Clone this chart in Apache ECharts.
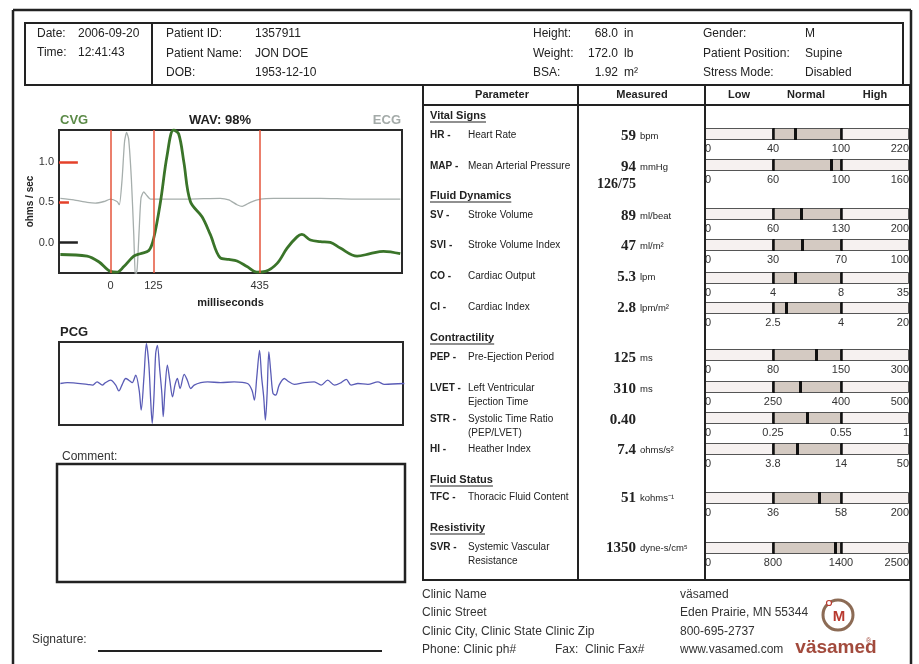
<!DOCTYPE html>
<html><head><meta charset="utf-8">
<script src="https://cdn.jsdelivr.net/npm/echarts@6/dist/echarts.min.js"></script>
<style>html,body{margin:0;padding:0;background:#fff}#c{width:919px;height:664px}</style>
</head><body><div id="c"></div>
<script>
// ---------- DATA ----------
const cvgMs  = [-146,-68,-34,0,19,39,68,87,112,126,146,165,184,199,214,233,267,291,320,345,369,398,427,452,486,515,544,558,583,612,641,670,719,757,796,845];
const cvgVal = [-0.15,-0.17,-0.24,-0.36,-0.37,-0.30,-0.17,-0.14,-0.10,0.05,0.51,1.08,1.40,1.35,1.00,0.51,0.32,0.10,-0.19,-0.21,-0.23,-0.30,-0.37,-0.36,-0.26,-0.07,0.07,0.10,0.03,0.01,0.00,-0.07,-0.17,-0.14,-0.11,-0.14];
const ecgMs  = [-146,-107,-68,-44,-19,0,19,26,34,41,47,53,61,68,73,78,84,89,97,105,117,146,223,320,345,369,384,408,437,476,612,709,845];
const ecgVal = [0.55,0.53,0.50,0.49,0.51,0.54,0.51,0.47,0.79,1.25,1.37,1.29,0.79,0.10,-0.45,-0.32,0.18,0.55,0.63,0.59,0.54,0.54,0.54,0.55,0.53,0.47,0.45,0.50,0.54,0.55,0.55,0.54,0.54];
const pcgMs  = [-146,-126,-68,-53,-39,-24,-15,0,15,24,34,44,53,63,73,83,89,97,104,111,117,121,126,131,136,143,149,153,158,165,172,180,187,194,202,214,223,233,243,262,282,320,359,398,411,418,425,433,439,445,450,455,460,466,472,480,490,505,515,534,563,592,612,631,651,670,685,699,719,748,777,796,854];
const pcgVal = [0,0.02,-0.02,-0.04,0.04,-0.04,0.02,0.08,-0.04,-0.18,-0.02,0.12,0.08,0.02,0.2,-0.16,-0.64,0.16,0.96,0.48,-0.48,-0.96,-0.32,0.72,0.92,0.32,-0.24,-0.8,-0.16,0.44,0.08,-0.32,-0.04,0.12,-0.12,0.22,0.08,-0.12,-0.04,0.02,0.04,0.02,0.04,0,-0.16,-0.4,0.16,0.8,0.16,-0.32,-0.88,-0.24,0.76,0.24,-0.24,-0.28,-0.04,0.12,0.06,-0.02,0.02,0.04,-0.04,0.08,-0.04,0.02,0.1,-0.04,0,-0.02,0.04,-0.02,0];
const markerMs = [0,125,435];
const cvgTickVals = [0,0.5,1.0];

const paramCodes = ['HR -','MAP -','SV -','SVI -','CO -','CI -','PEP -','LVET -','STR -','HI -','TFC -','SVR -'];
const paramNames = [['Heart Rate'],['Mean Arterial Pressure'],['Stroke Volume'],['Stroke Volume Index'],['Cardiac Output'],['Cardiac Index'],['Pre-Ejection Period'],['Left Ventricular','Ejection Time'],['Systolic Time Ratio','(PEP/LVET)'],['Heather Index'],['Thoracic Fluid Content'],['Systemic Vascular','Resistance']];
const measured   = [59,94,89,47,5.3,2.8,125,310,0.40,7.4,51,1350];
const measuredTx = ['59','94','89','47','5.3','2.8','125','310','0.40','7.4','51','1350'];
const units      = ['bpm','mmHg','ml/beat','ml/m²','lpm','lpm/m²','ms','ms','','ohms/s²','kohms⁻¹','dyne-s/cm⁵'];
const lowLimits  = [40,60,60,30,4,2.5,80,250,0.25,3.8,36,800];
const highLimits = [100,100,130,70,8,4,150,400,0.55,14,58,1400];
const maxLimits  = [220,160,200,100,35,20,300,500,1,50,200,2500];
const sections   = ['Vital Signs','Fluid Dynamics','Contractility','Fluid Status','Resistivity'];
const bloodPressure = '126/75';

// ---------- LAYOUT ----------
const FONT = '"Liberation Sans", Arial, sans-serif';
const SERIF = '"Liberation Serif", "Times New Roman", serif';
const rowY   = [135,166,215,245,276,307,357,388,419,449,497,547];
const barTop = [128,159,208,239,272,302,349,381,412,443,492,542];
const sectionY = [116,196,338,480,528];

const g = [];
function T(x,y,text,o){o=o||{};g.push({type:'text',x:x,y:y,silent:true,z:o.z||10,style:{text:text,fill:o.color||'#222',
  font:(o.bold?'bold ':'')+(o.size||12)+'px '+(o.family||FONT),textAlign:o.align||'left',textVerticalAlign:'middle',align:o.align||'left',verticalAlign:'middle'}});}
function L(x1,y1,x2,y2,w,c){g.push({type:'line',silent:true,z:5,shape:{x1:x1,y1:y1,x2:x2,y2:y2},style:{stroke:c||'#222',lineWidth:w||2}});}
function R(x,y,w,h,lw,c){g.push({type:'rect',silent:true,z:5,shape:{x:x,y:y,width:w,height:h},style:{fill:'none',stroke:c||'#222',lineWidth:lw||2}});}
const mctx = document.createElement('canvas').getContext('2d');
function tw(text,font){mctx.font=font;return mctx.measureText(text).width;}

// outer frame
L(13,10,911,10,2.5); L(13,10,13,664,2.5); L(911,10,911,664,2.5);
// header box
R(25,23,878,62,2); L(152,23,152,85,2);
T(37,34,'Date:'); T(78,34,'2006-09-20');
T(37,53,'Time:'); T(78,53,'12:41:43');
T(166,34,'Patient ID:'); T(255,34,'1357911');
T(166,54,'Patient Name:'); T(255,54,'JON DOE');
T(166,73,'DOB:'); T(255,73,'1953-12-10');
T(533,34,'Height:'); T(618,34,'68.0',{align:'right'}); T(624,34,'in');
T(533,54,'Weight:'); T(618,54,'172.0',{align:'right'}); T(624,54,'lb');
T(533,73,'BSA:'); T(618,73,'1.92',{align:'right'}); T(624,73,'m²');
T(703,34,'Gender:'); T(805,34,'M');
T(703,54,'Patient Position:'); T(805,54,'Supine');
T(703,73,'Stress Mode:'); T(805,73,'Disabled');

// table frame
R(423,85,487,495,2); L(423,105,910,105,2); L(578,85,578,580,2); L(705,85,705,580,2);
T(502,95,'Parameter',{bold:true,size:11,align:'center'});
T(642,95,'Measured',{bold:true,size:11,align:'center'});
T(739,95,'Low',{bold:true,size:11,align:'center'});
T(806,95,'Normal',{bold:true,size:11,align:'center'});
T(875,95,'High',{bold:true,size:11,align:'center'});
sections.forEach(function(s,i){
  T(430,sectionY[i],s,{bold:true,size:11});
  L(430,sectionY[i]+6,430+tw(s,'bold 11px '+FONT),sectionY[i]+6,1.2);
});
paramCodes.forEach(function(c,i){
  T(430,rowY[i],c,{bold:true,size:10});
  paramNames[i].forEach(function(n,k){T(468,rowY[i]+k*14,n,{size:10});});
  T(636,rowY[i]+1,measuredTx[i],{bold:true,size:15,family:SERIF,align:'right'});
  if(units[i]) T(640,rowY[i]+1,units[i],{size:9.5});
});
T(597,184,bloodPressure,{bold:true,size:14,family:SERIF});

// CVG titles
T(60,120,'CVG',{bold:true,size:13,color:'#5b8a47'});
T(220,120,'WAV: 98%',{bold:true,size:13,align:'center'});
T(401,120,'ECG',{bold:true,size:13,color:'#a3aaa8',align:'right'});
T(60,332,'PCG',{bold:true,size:13});
// comment / signature
T(62,457,'Comment:',{size:12,color:'#333'});
R(57,464,348,118,2.5);
T(32,640,'Signature:',{size:12,color:'#333'});
L(98,651,382,651,2);
// footer
T(422,595,'Clinic Name',{color:'#333'}); T(422,613,'Clinic Street',{color:'#333'});
T(422,632,'Clinic City, Clinic State Clinic Zip',{color:'#333'});
T(422,650,'Phone: Clinic ph#',{color:'#333'}); T(555,650,'Fax:  Clinic Fax#',{color:'#333'});
T(680,595,'väsamed',{color:'#333'}); T(680,613,'Eden Prairie, MN 55344',{color:'#333'});
T(680,632,'800-695-2737',{color:'#333'}); T(680,650,'www.vasamed.com',{color:'#333'});
g.push({type:'circle',silent:true,z:5,shape:{cx:838,cy:615,r:15},style:{fill:'#fff',stroke:'#8c6b55',lineWidth:3}});
g.push({type:'circle',silent:true,z:6,shape:{cx:829,cy:603,r:2.5},style:{fill:'#fff',stroke:'#b8392f',lineWidth:1.2}});
T(839,617,'M',{bold:true,size:15,color:'#b8392f',align:'center',z:7});
T(836,648,'väsamed',{bold:true,size:19,color:'#a24a3c',align:'center'});
T(866,641,'®',{size:7,color:'#a24a3c'});

// ---------- SERIES / AXES ----------
function norm(v,lo,hi,mx){return v<=lo? v/lo : (v<=hi? 1+(v-lo)/(hi-lo) : 2+(v-hi)/(mx-hi));}
function zip(a,b){return a.map(function(x,i){return [x,b[i]];});}

const grids=[{left:59,top:130,width:343,height:143,show:true,borderColor:'#2a2a2a',borderWidth:2,backgroundColor:'transparent'},
             {left:59,top:342,width:344,height:83,show:true,borderColor:'#2a2a2a',borderWidth:2,backgroundColor:'transparent'}];
const xAxes=[{gridIndex:0,type:'value',min:-150,max:850,axisLine:{show:false},axisTick:{show:false},splitLine:{show:false},
   axisLabel:{customValues:markerMs,margin:7,fontSize:11,color:'#333',fontFamily:FONT},
   name:'milliseconds',nameLocation:'middle',nameGap:24,nameTextStyle:{fontWeight:'bold',fontSize:11,color:'#222',fontFamily:FONT}},
  {gridIndex:1,type:'value',min:-150,max:850,show:false}];
const yAxes=[{gridIndex:0,type:'value',min:-0.38,max:1.4,axisLine:{show:false},axisTick:{show:false},splitLine:{show:false},
   axisLabel:{customValues:cvgTickVals,formatter:function(v){return v.toFixed(1);},margin:5,fontSize:11,color:'#333',fontFamily:FONT},
   name:'ohms / sec',nameLocation:'middle',nameGap:24,nameRotate:90,nameTextStyle:{fontWeight:'bold',fontSize:10,color:'#222',fontFamily:FONT}},
  {gridIndex:1,type:'value',min:-1,max:1,show:false}];
const series=[
 {type:'line',xAxisIndex:0,yAxisIndex:0,data:zip(ecgMs,ecgVal),showSymbol:false,smooth:0.2,lineStyle:{color:'#a6aeac',width:1.3},z:2,silent:true,
  markLine:{silent:true,symbol:['none','none'],label:{show:false},lineStyle:{color:'#e4553b',width:1.5,type:'solid'},
   data:markerMs.map(function(t){return {xAxis:t};}).concat([
     [{coord:[-150,1.0],lineStyle:{color:'#e4412a',width:2.5}},{coord:[-95,1.0]}],
     [{coord:[-150,0.5],lineStyle:{color:'#e4412a',width:2.5}},{coord:[-121,0.5]}],
     [{coord:[-150,0.0],lineStyle:{color:'#222',width:2.5}},{coord:[-95,0.0]}]])}},
 {type:'line',xAxisIndex:0,yAxisIndex:0,data:zip(cvgMs,cvgVal),showSymbol:false,smooth:0.35,lineStyle:{color:'#3a7429',width:2.8},z:3,silent:true},
 {type:'line',xAxisIndex:1,yAxisIndex:1,data:zip(pcgMs,pcgVal),showSymbol:false,smooth:0.3,lineStyle:{color:'#5a5cb6',width:1.3},silent:true}
];
const bandColors=['#f6f1f0','#d4cac2','#f6f1f0'];
measured.forEach(function(v,i){
  const gi=i+2, labs=[0,lowLimits[i],highLimits[i],maxLimits[i]];
  grids.push({left:705,top:barTop[i],width:204,height:12});
  xAxes.push({gridIndex:gi,type:'value',min:0,max:3,interval:1,axisLine:{show:false},axisTick:{show:false},splitLine:{show:false},
    axisLabel:{margin:3,fontSize:11,color:'#333',fontFamily:FONT,alignMinLabel:'left',alignMaxLabel:'right',
      formatter:function(t){return String(labs[Math.round(t)]);}}});
  yAxes.push({gridIndex:gi,type:'category',data:[''],show:false});
  bandColors.forEach(function(col,k){
    const s={type:'bar',xAxisIndex:gi,yAxisIndex:gi,stack:'band'+i,data:[1],barWidth:'100%',silent:true,
      itemStyle:{color:col,borderColor:'#555',borderWidth:1}};
    if(k===2){s.markLine={silent:true,symbol:['none','none'],label:{show:false},lineStyle:{color:'#111',width:2.5,type:'solid'},
      data:[{xAxis:1},{xAxis:2},{xAxis:norm(v,lowLimits[i],highLimits[i],maxLimits[i]),lineStyle:{width:3}}]};}
    series.push(s);
  });
});

const chart=echarts.init(document.getElementById('c'),null,{renderer:'canvas'});
chart.setOption({animation:false,backgroundColor:'#fff',grid:grids,xAxis:xAxes,yAxis:yAxes,series:series,graphic:{elements:g}});
</script></body></html>
